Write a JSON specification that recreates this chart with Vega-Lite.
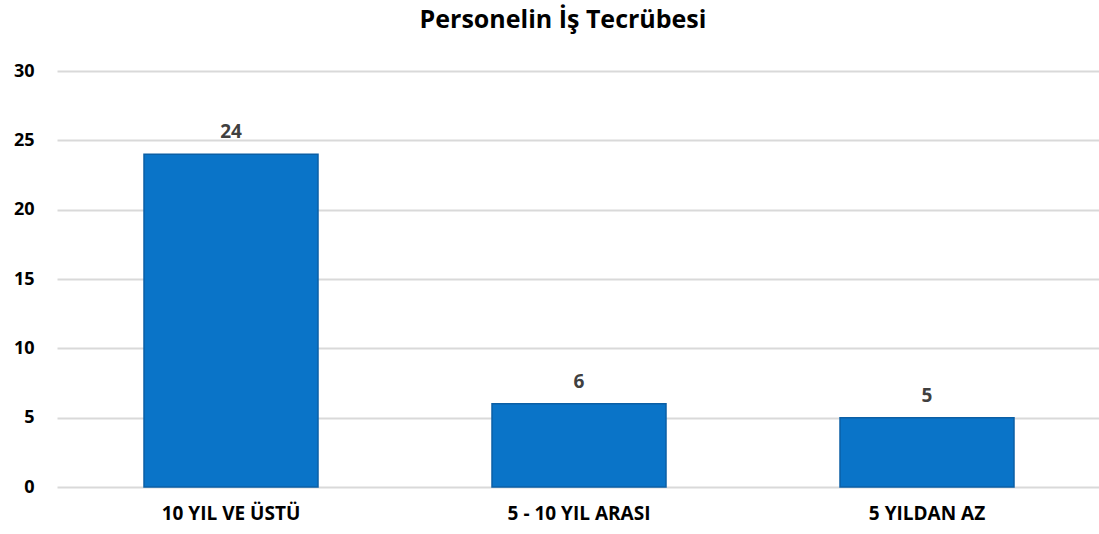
{
  "$schema": "https://vega.github.io/schema/vega-lite/v6.json",
  "width": 1044,
  "height": 416,
  "autosize": {"type": "none"},
  "padding": {"left": 57, "top": 71, "right": 0, "bottom": 47},
  "background": "white",
  "title": {
    "text": "Personelin İş Tecrübesi",
    "font": "Open Sans",
    "fontSize": 25,
    "fontWeight": "bold",
    "color": "#000000",
    "anchor": "middle",
    "dx": -16,
    "offset": 29
  },
  "config": {
    "view": {"stroke": null},
    "font": "Open Sans"
  },
  "data": {
    "values": [
      {"kategori": "10 YIL VE ÜSTÜ", "sayi": 24},
      {"kategori": "5 - 10 YIL ARASI", "sayi": 6},
      {"kategori": "5 YILDAN AZ", "sayi": 5}
    ]
  },
  "encoding": {
    "x": {
      "field": "kategori",
      "type": "nominal",
      "sort": null,
      "scale": {"paddingInner": 0.5, "paddingOuter": 0.25},
      "axis": {
        "title": null,
        "labelAngle": 0,
        "labelFont": "Open Sans",
        "labelFontSize": 19,
        "labelFontWeight": "bold",
        "labelColor": "#000000",
        "labelPadding": 17,
        "ticks": false,
        "domain": false
      }
    },
    "y": {
      "field": "sayi",
      "type": "quantitative",
      "scale": {"domain": [0, 30]},
      "axis": {
        "title": null,
        "values": [0, 5, 10, 15, 20, 25, 30],
        "labelFont": "Open Sans",
        "labelFontSize": 18,
        "labelFontWeight": "bold",
        "labelColor": "#000000",
        "labelPadding": 23,
        "ticks": false,
        "domain": false,
        "grid": true,
        "gridColor": "#D9D9D9",
        "gridWidth": 2
      }
    }
  },
  "layer": [
    {
      "mark": {"type": "bar", "color": "#0A74C8", "stroke": "#0B5FA5", "strokeWidth": 1.5}
    },
    {
      "mark": {"type": "text", "dy": -22, "font": "Open Sans", "fontSize": 19, "fontWeight": "bold", "color": "#404040"},
      "encoding": {"text": {"field": "sayi", "type": "quantitative"}}
    }
  ]
}
